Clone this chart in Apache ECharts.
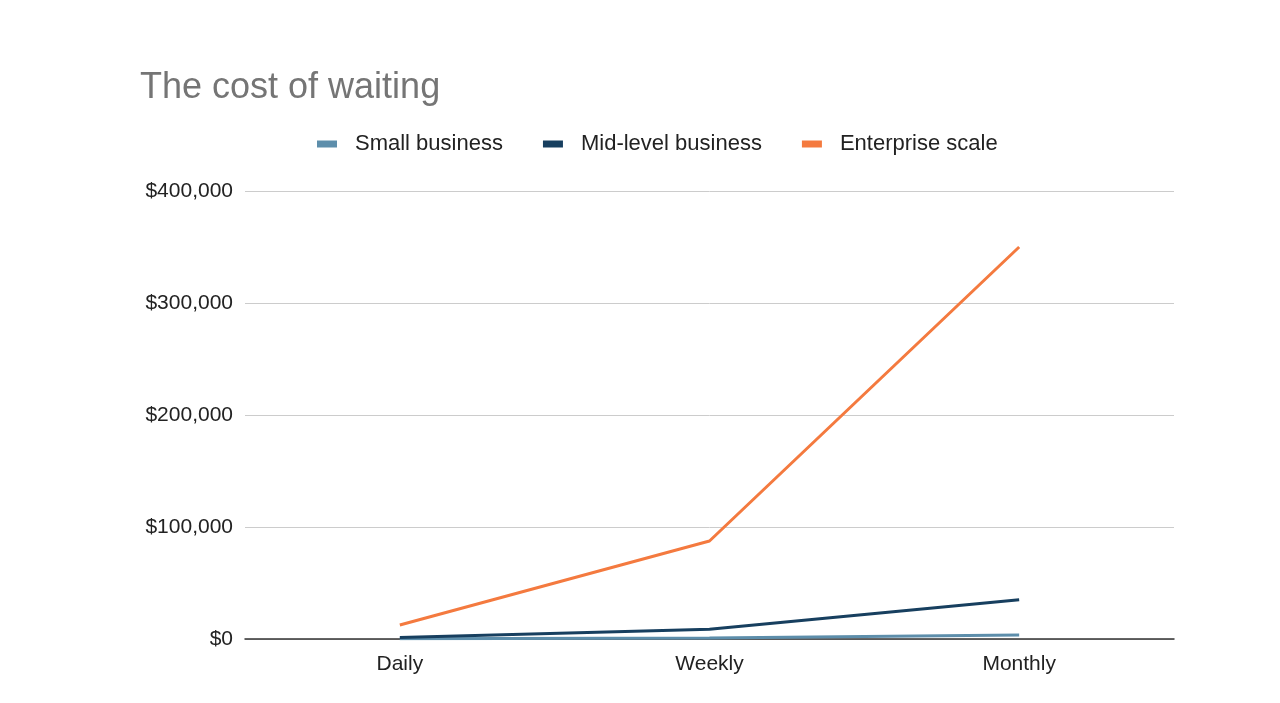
<!DOCTYPE html>
<html><head><meta charset="utf-8">
<script src="https://cdn.jsdelivr.net/npm/echarts@6/dist/echarts.min.js"></script>
<style>html,body{margin:0;padding:0;background:#fff}#c{width:1280px;height:703px}</style>
</head><body><div id="c"></div>
<script>
const categories = ["Daily", "Weekly", "Monthly"];
const smallBusiness = [125, 875, 3500];
const midLevelBusiness = [1250, 8750, 35000];
const enterpriseScale = [12500, 87500, 350000];
const yTicks = [0, 100000, 200000, 300000, 400000];

const chart = echarts.init(document.getElementById('c'), null, {renderer: 'canvas'});
const font = '"Liberation Sans", Arial, sans-serif';
chart.setOption({
  animation: false,
  backgroundColor: '#fff',
  title: {
    text: 'The cost of waiting', left: 135, top: 65,
    textStyle: {fontFamily: font, fontSize: 36, fontWeight: 'normal', color: '#757575'}
  },
  legend: {
    top: 128, left: 312,
    itemWidth: 20, itemHeight: 7, itemGap: 40,
    icon: 'rect',
    textStyle: {fontFamily: font, fontSize: 22, color: '#222', padding: [0, 0, 0, 13]},
    data: ['Small business', 'Mid-level business', 'Enterprise scale']
  },
  grid: {left: 245, right: 106, top: 191, bottom: 64, containLabel: false},
  xAxis: {
    type: 'category', data: categories, boundaryGap: true,
    axisLine: {lineStyle: {color: '#333', width: 1.5}},
    axisTick: {show: false},
    axisLabel: {fontFamily: font, fontSize: 21, color: '#222', margin: 15}
  },
  yAxis: {
    type: 'value', min: yTicks[0], max: yTicks[yTicks.length - 1], interval: 100000,
    axisLine: {show: false}, axisTick: {show: false},
    splitLine: {lineStyle: {color: '#cccccc', width: 1}},
    axisLabel: {fontFamily: font, fontSize: 21, color: '#222', margin: 12,
      formatter: v => '$' + v.toLocaleString('en-US')}
  },
  series: [
    {name: 'Small business', type: 'line', data: smallBusiness, symbol: 'none',
     lineStyle: {width: 3, color: '#5d8eab'}, itemStyle: {color: '#5d8eab'}},
    {name: 'Mid-level business', type: 'line', data: midLevelBusiness, symbol: 'none',
     lineStyle: {width: 3, color: '#173f5f'}, itemStyle: {color: '#173f5f'}},
    {name: 'Enterprise scale', type: 'line', data: enterpriseScale, symbol: 'none',
     lineStyle: {width: 3, color: '#f47a3f'}, itemStyle: {color: '#f47a3f'}}
  ]
});
</script></body></html>
